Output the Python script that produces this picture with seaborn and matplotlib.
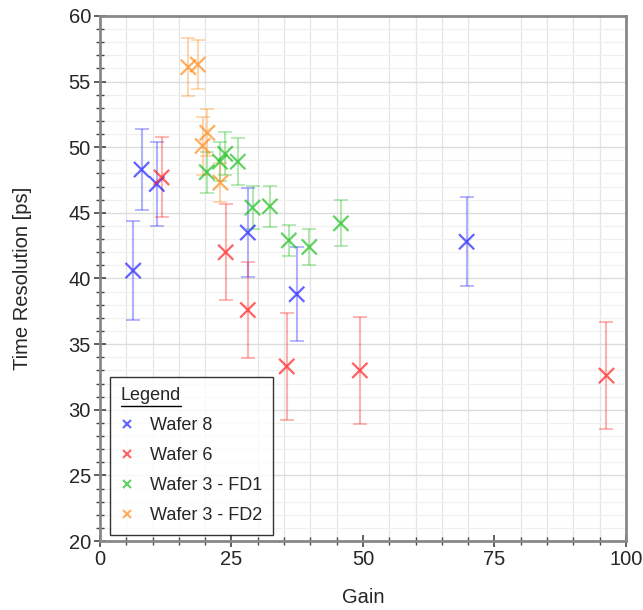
import numpy as np
import matplotlib
matplotlib.use("Agg")
import matplotlib.pyplot as plt
import pandas as pd
import seaborn as sns
from matplotlib.lines import Line2D

# data
w8_gain = [6.3, 7.9, 10.8, 28.1, 37.4, 69.7]
w8_res = [40.6, 48.3, 47.2, 43.5, 38.8, 42.8]
w8_err = [3.8, 3.1, 3.2, 3.4, 3.6, 3.4]

w6_gain = [11.7, 23.9, 28.1, 35.5, 49.4, 96.3]
w6_res = [47.7, 42.0, 37.6, 33.3, 33.0, 32.6]
w6_err = [3.05, 3.65, 3.65, 4.1, 4.05, 4.1]

fd1_gain = [20.3, 22.8, 23.8, 26.2, 29.0, 32.3, 35.9, 39.8, 45.8]
fd1_res = [48.1, 48.9, 49.5, 48.9, 45.4, 45.5, 42.9, 42.4, 44.2]
fd1_err = [1.55, 1.5, 1.65, 1.8, 1.65, 1.55, 1.15, 1.35, 1.75]

fd2_gain = [16.8, 18.6, 19.5, 20.4, 22.9]
fd2_res = [56.1, 56.3, 50.1, 51.1, 47.3]
fd2_err = [2.2, 1.9, 2.2, 1.8, 1.5]

labels = ["Wafer 8", "Wafer 6", "Wafer 3 - FD1", "Wafer 3 - FD2"]
colors = ["#2020ff", "#ff2020", "#20c020", "#ff8c1a"]

frames = []
for lab, g, r, e in zip(labels,
                        [w8_gain, w6_gain, fd1_gain, fd2_gain],
                        [w8_res, w6_res, fd1_res, fd2_res],
                        [w8_err, w6_err, fd1_err, fd2_err]):
    frames.append(pd.DataFrame({"Gain": g, "Res": r, "Err": e, "Wafer": lab}))
df = pd.concat(frames, ignore_index=True)

sns.set_style("white")
plt.rcParams["font.family"] = ["Liberation Sans", "DejaVu Sans"]
plt.rcParams["font.size"] = 14

fig = plt.figure(figsize=(6.43, 6.10), dpi=100)
ax = fig.add_axes([0.1555, 0.1131, 0.818, 0.8607])

handles = []
for lab, col in zip(labels, colors):
    sub = df[df["Wafer"] == lab]
    ax.errorbar(sub["Gain"], sub["Res"], yerr=sub["Err"], fmt="none",
                ecolor=col, alpha=0.35, elinewidth=1.5, capsize=5, capthick=1.3, zorder=3)
    handles.append(Line2D([], [], color=col, marker="x", linestyle="none",
                          markersize=6, markeredgewidth=1.5, alpha=0.7))

sns.scatterplot(data=df, x="Gain", y="Res", hue="Wafer", palette=dict(zip(labels, colors)),
                marker="x", s=120, linewidth=1.6, alpha=0.7, legend=False, ax=ax, zorder=4)

ax.set_xlim(0, 100)
ax.set_ylim(20, 60)
ax.set_xticks([0, 25, 50, 75, 100])
ax.set_xticks(np.arange(0, 101, 5), minor=True)
ax.set_yticks(np.arange(20, 61, 5))
ax.set_yticks(np.arange(20, 61, 1), minor=True)
ax.grid(which="major", axis="y", color="#dcdcdc", linewidth=1.0)
ax.grid(which="minor", axis="y", color="#f0f0f0", linewidth=0.9)
ax.grid(which="minor", axis="x", color="#e4e4e4", linewidth=0.9)
ax.set_axisbelow(True)
ax.tick_params(which="major", direction="inout", length=9, width=1.2, color="#444444",
               labelsize=14.5, left=True, bottom=True, pad=2)
ax.tick_params(which="minor", direction="inout", length=6, width=1.0, color="#444444",
               left=True, bottom=True)
for sp in ax.spines.values():
    sp.set_color("#888888")
    sp.set_linewidth(2)
ax.set_xlabel("Gain", fontsize=14.5, labelpad=14)
ax.set_ylabel("Time Resolution [ps]", fontsize=14.5, labelpad=26)

leg = ax.legend(handles, labels, title="Legend", loc="lower left",
                bbox_to_anchor=(0.019, 0.011), borderaxespad=0, fontsize=13,
                title_fontsize=13, frameon=True, fancybox=False, handlelength=0.7,
                handletextpad=0.9, labelspacing=0.72, borderpad=0.6, alignment="left")
leg.get_frame().set_edgecolor("black")
leg.get_frame().set_linewidth(1.0)
leg.set_zorder(10)

# underline the legend title
fig.canvas.draw()
bb = leg.get_title().get_window_extent().transformed(fig.transFigure.inverted())
fig.add_artist(Line2D([bb.x0, bb.x1], [bb.y0 - 0.002, bb.y0 - 0.002],
                      color="black", linewidth=1.0, transform=fig.transFigure, zorder=11))

fig.savefig("out.png", dpi=100)
